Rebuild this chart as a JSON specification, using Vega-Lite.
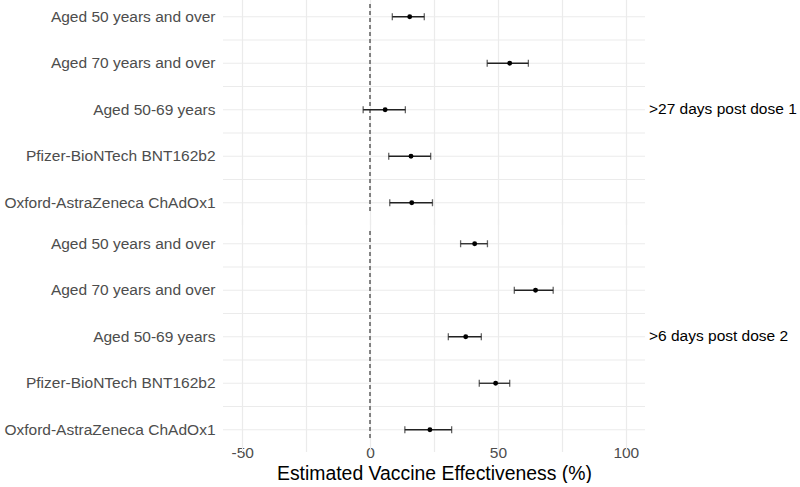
{
  "$schema": "https://vega.github.io/schema/vega-lite/v6.json",
  "padding": {"left": 3, "top": 3, "right": 0, "bottom": 0},
  "data": {"values": [
    {"period": ">27 days post dose 1", "group": "Aged 50 years and over", "est": 15.5, "lo": 8.7, "hi": 21.2},
    {"period": ">27 days post dose 1", "group": "Aged 70 years and over", "est": 54.6, "lo": 45.8, "hi": 61.9},
    {"period": ">27 days post dose 1", "group": "Aged 50-69 years", "est": 5.9, "lo": -2.7, "hi": 13.8},
    {"period": ">27 days post dose 1", "group": "Pfizer-BioNTech BNT162b2", "est": 16.0, "lo": 7.3, "hi": 23.7},
    {"period": ">27 days post dose 1", "group": "Oxford-AstraZeneca ChAdOx1", "est": 16.3, "lo": 7.7, "hi": 24.4},
    {"period": ">6 days post dose 2", "group": "Aged 50 years and over", "est": 40.9, "lo": 35.4, "hi": 45.9},
    {"period": ">6 days post dose 2", "group": "Aged 70 years and over", "est": 64.7, "lo": 56.4, "hi": 71.6},
    {"period": ">6 days post dose 2", "group": "Aged 50-69 years", "est": 37.4, "lo": 30.6, "hi": 43.5},
    {"period": ">6 days post dose 2", "group": "Pfizer-BioNTech BNT162b2", "est": 49.1, "lo": 42.7, "hi": 54.6},
    {"period": ">6 days post dose 2", "group": "Oxford-AstraZeneca ChAdOx1", "est": 23.4, "lo": 13.6, "hi": 31.9}
  ]},
  "facet": {
    "row": {
      "field": "period", "type": "nominal",
      "sort": [">27 days post dose 1", ">6 days post dose 2"],
      "header": {
        "title": null, "orient": "right", "labelAngle": 0,
        "labelAlign": "right", "labelBaseline": "middle", "labelPadding": 4,
        "labelFontSize": 15.5, "labelColor": "#000000", "labelFont": "Liberation Sans"
      }
    }
  },
  "spacing": {"row": 15},
  "spec": {
    "width": 422,
    "height": 210,
    "layer": [
      {
        "mark": {"type": "rule", "color": "#ebebeb", "strokeWidth": 1, "clip": true},
        "encoding": {
          "y": {"field": "group", "type": "nominal", "sort": null, "bandPosition": 0,
                "scale": {"type": "band", "range": [-10.5, 222], "paddingInner": 0, "paddingOuter": 0},
                "axis": {"title": null, "ticks": false, "domain": false, "grid": false,
                         "labelFontSize": 15.5, "labelColor": "#4d4d4d", "labelPadding": 8, "labelLimit": 400}}
        }
      },
      {
        "mark": {"type": "rule", "color": "#ebebeb", "strokeWidth": 1.2, "clip": true},
        "encoding": {
          "y": {"field": "group", "type": "nominal", "sort": null, "bandPosition": 0.5}
        }
      },
      {
        "mark": {"type": "rule", "color": "#7f7f7f", "strokeWidth": 1, "strokeDash": [4, 3]},
        "encoding": {
          "x": {"datum": 0, "type": "quantitative"}
        }
      },
      {
        "mark": {"type": "rule", "color": "#222222", "strokeWidth": 1.3},
        "encoding": {
          "x": {"field": "lo", "type": "quantitative",
                "scale": {"domain": [-57.5, 107.5], "nice": false, "zero": false},
                "axis": {"title": "Estimated Vaccine Effectiveness (%)",
                         "values": [-50, -25, 0, 25, 50, 75, 100],
                         "labelExpr": "datum.value % 50 === 0 ? '' + datum.value : ''",
                         "grid": true, "gridColor": "#ebebeb", "gridWidth": 1.2,
                         "ticks": false, "domain": false,
                         "labelFontSize": 15.5, "labelColor": "#4d4d4d", "labelPadding": 3,
                         "titleFontSize": 19.4, "titleColor": "#000000", "titleFontWeight": "normal", "titlePadding": 4}},
          "x2": {"field": "hi"},
          "y": {"field": "group", "type": "nominal", "sort": null}
        }
      },
      {
        "mark": {"type": "tick", "color": "#222222", "thickness": 1.3, "size": 7},
        "encoding": {
          "x": {"field": "lo", "type": "quantitative"},
          "y": {"field": "group", "type": "nominal", "sort": null}
        }
      },
      {
        "mark": {"type": "tick", "color": "#222222", "thickness": 1.3, "size": 7},
        "encoding": {
          "x": {"field": "hi", "type": "quantitative"},
          "y": {"field": "group", "type": "nominal", "sort": null}
        }
      },
      {
        "mark": {"type": "point", "filled": true, "color": "#000000", "opacity": 1, "size": 24},
        "encoding": {
          "x": {"field": "est", "type": "quantitative"},
          "y": {"field": "group", "type": "nominal", "sort": null}
        }
      }
    ]
  },
  "config": {
    "font": "Liberation Sans",
    "view": {"stroke": null},
    "axis": {"labelFont": "Liberation Sans", "titleFont": "Liberation Sans"}
  }
}
